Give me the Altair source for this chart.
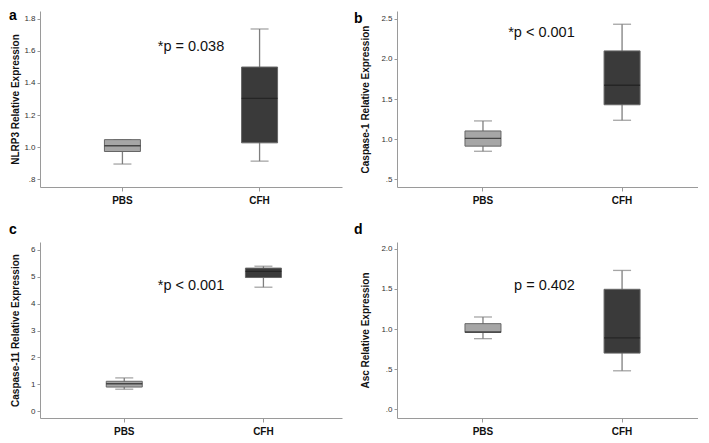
import altair as alt
import pandas as pd

groups = ["PBS", "CFH"]
panel_letters = ["a", "b", "c", "d"]
y_titles = ["NLRP3 Relative Expression", "Caspase-1 Relative Expression",
            "Caspase-11 Relative Expression", "Asc Relative Expression"]
p_labels = ["*p = 0.038", "*p < 0.001", "*p < 0.001", "p = 0.402"]
p_label_y = [1.625, 2.325, 4.67, 1.54]

whisker_low = [[0.895, 0.913], [0.849, 1.235], [0.82, 4.61], [0.88, 0.48]]
q1 = [[0.973, 1.027], [0.913, 1.428], [0.90, 4.97], [0.957, 0.70]]
median = [[1.009, 1.304], [1.01, 1.672], [1.02, 5.20], [0.965, 0.89]]
q3 = [[1.047, 1.499], [1.102, 2.099], [1.115, 5.32], [1.067, 1.495]]
whisker_high = [[1.047, 1.736], [1.227, 2.431], [1.24, 5.39], [1.15, 1.73]]

y_domains = [[0.752, 1.848], [0.404, 2.596], [-0.25, 6.29], [-0.108, 2.084]]
y_ticks = [[0.8, 1.0, 1.2, 1.4, 1.6, 1.8], [0.5, 1.0, 1.5, 2.0, 2.5],
           [0, 1, 2, 3, 4, 5, 6], [0.0, 0.5, 1.0, 1.5, 2.0]]

# layout / style settings
widths = [302, 301, 302, 301]
H = 176
band_pad = [0.101, 0.082, 0.085, 0.082]
band_align = [0.5, 0.72, 0.62, 0.72]
title_x = [-20, -27, -20, -27]
letter_x = [-31, -43, -31, -43]
letter_y = [9, 12, -8, -8]
p_x_frac = [0.5, 0.48, 0.5, 0.49]
FONT = "Liberation Sans"


def panel(i):
    W = widths[i]
    df = pd.DataFrame({
        "group": groups,
        "lo": whisker_low[i],
        "q1": q1[i],
        "med": median[i],
        "q3": q3[i],
        "hi": whisker_high[i],
    })
    yscale = alt.Scale(domain=y_domains[i], nice=False, zero=False)
    if i == 2:
        lab = "format(datum.value, 'd')"
    else:
        lab = ("(datum.value < 1 && datum.value > -0.01) ? "
               "slice(format(datum.value, '.1f'), 1) : format(datum.value, '.1f')")
    yaxis = alt.Axis(values=y_ticks[i], title=y_titles[i], grid=False,
                     titleFontSize=10, titleFontWeight="bold", titleColor="#111",
                     titleX=title_x[i], titleY=H / 2, titleAngle=270,
                     titleBaseline="bottom", titleAlign="center",
                     domainColor="#9a9a9a", tickColor="#9a9a9a", tickSize=3,
                     labelFontSize=8, labelColor="#333", labelExpr=lab, labelPadding=2)

    def Y(field):
        return alt.Y(f"{field}:Q", scale=yscale, axis=yaxis)

    xenc = alt.X("group:N", sort=groups,
                 scale=alt.Scale(domain=groups, paddingInner=0,
                                 paddingOuter=band_pad[i], align=band_align[i]),
                 axis=alt.Axis(title=None, labelAngle=0, labelFontSize=10,
                               labelFontWeight="bold", labelColor="#111",
                               domainColor="#9a9a9a", tickColor="#9a9a9a",
                               tickSize=4, labelPadding=4))
    base = alt.Chart(df).encode(x=xenc)
    whisk = base.mark_rule(color="#7f7f7f", strokeWidth=1.3).encode(
        y=Y("lo"), y2="hi")
    cap_lo = base.mark_tick(color="#7f7f7f", size=18, thickness=1.3).encode(y=Y("lo"))
    cap_hi = base.mark_tick(color="#7f7f7f", size=18, thickness=1.3).encode(y=Y("hi"))
    box = base.mark_bar(size=36, stroke="#666666", strokeWidth=1).encode(
        y=Y("q1"), y2="q3",
        color=alt.Color("group:N", scale=alt.Scale(domain=groups,
                        range=["#a6a6a6", "#3a3a3a"]), legend=None))
    med = base.mark_tick(color="#1c1c1c", size=36, thickness=1.4).encode(y=Y("med"))

    ptxt = alt.Chart(pd.DataFrame({"t": [p_labels[i]], "py": [p_label_y[i]]})).mark_text(
        font=FONT, fontSize=14.5, color="#111", align="center", baseline="middle"
    ).encode(x=alt.value(W * p_x_frac[i]), y=Y("py"), text="t:N")
    letter = alt.Chart(pd.DataFrame({"t": [panel_letters[i]]})).mark_text(
        font=FONT, fontSize=14, fontWeight="bold", color="#000",
        align="left", baseline="alphabetic"
    ).encode(x=alt.value(letter_x[i]), y=alt.value(letter_y[i]), text="t:N")

    return alt.layer(whisk, cap_lo, cap_hi, box, med, ptxt, letter).properties(
        width=W, height=H)


chart = alt.concat(*[panel(i) for i in range(4)], columns=2,
                   spacing=alt.RowColnumber(row=18, column=12)).properties(
    padding={"left": 1, "top": 1, "right": 0, "bottom": 0}
).configure_view(stroke=None).configure_axis(labelFont=FONT, titleFont=FONT
).configure_text(font=FONT)

chart.save("out.html", embed_options={"renderer": "svg", "actions": False})
